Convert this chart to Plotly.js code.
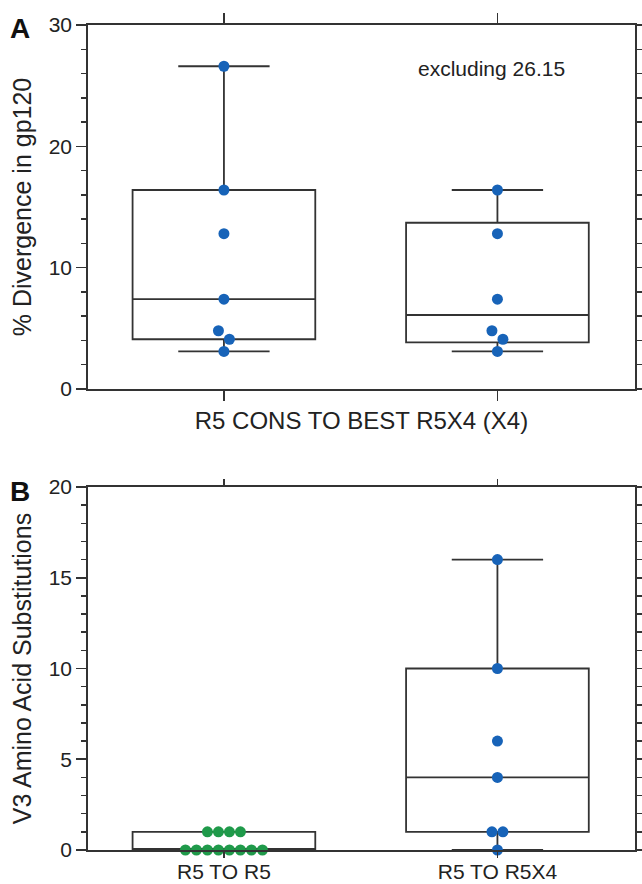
<!DOCTYPE html>
<html>
<head>
<meta charset="utf-8">
<script src="https://cdn.plot.ly/plotly-3.0.1.min.js"></script>
<style>
html,body{margin:0;padding:0;background:#ffffff;}
#chart{width:642px;height:884px;}
</style>
</head>
<body>
<div id="chart"></div>
<script>
// ---------- DATA ----------
// Panel A: % divergence in gp120 (R5 consensus to best R5X4 (X4))
const panelA_groups = ["all", "excluding 26.15"];
const panelA_all = [26.6, 16.4, 12.8, 7.4, 4.8, 4.1, 3.1];
const panelA_excluding = [16.4, 12.8, 7.4, 4.8, 4.1, 3.1];
const panelA_title_x = "R5 CONS TO BEST R5X4 (X4)";
const panelA_title_y = "% Divergence in gp120";
const panelA_note = "excluding 26.15";

// Panel B: V3 amino acid substitutions
const panelB_categories = ["R5 TO R5", "R5 TO R5X4"];
const panelB_r5_to_r5 = [1, 1, 1, 1, 0, 0, 0, 0, 0, 0, 0, 0];
const panelB_r5_to_r5x4 = [16, 10, 6, 4, 1, 1, 0];
const panelB_title_y = "V3 Amino Acid Substitutions";

// ---------- GEOMETRY ----------
const W = 642, H = 884;
const M = {l: 88, r: 7, t: 25, b: 34};
const plotW = W - M.l - M.r;
const plotH = H - M.t - M.b;
const aTop = 25, aBot = 389, bTop = 487, bBot = 850;
const domA = [(H - M.b - aBot) / plotH, 1];
const domB = [0, (H - M.b - bTop) / plotH];
const xr = [-0.497, 1.503];
const pxPerX = plotW / (xr[1] - xr[0]);
const yRangeA = [0, 30], yRangeB = [0, 20];
const pxPerYA = (aBot - aTop) / (yRangeA[1] - yRangeA[0]);
const pxPerYB = (bBot - bTop) / (yRangeB[1] - yRangeB[0]);
const DOT = 11;

const BLUE = "#1763b8";
const GREEN = "#1f9a4a";
const LINE = "#333333";
const FONT = "Liberation Sans, Arial, Helvetica, sans-serif";

function px2paperX(px) { return (px - M.l) / plotW; }
function px2paperY(py) { return (H - M.b - py) / plotH; }

// quartiles with (n+1)p positions
function quant(vals, p) {
  const s = vals.slice().sort((a, b) => a - b);
  const pos = (s.length + 1) * p;
  const lo = Math.floor(pos);
  const frac = pos - lo;
  if (lo < 1) return s[0];
  if (lo >= s.length) return s[s.length - 1];
  return s[lo - 1] + frac * (s[lo] - s[lo - 1]);
}
function stats(vals) {
  return {
    q1: quant(vals, 0.25), med: quant(vals, 0.5), q3: quant(vals, 0.75),
    lo: Math.min.apply(null, vals), hi: Math.max.apply(null, vals)
  };
}
// simple beeswarm: points closer than one dot are spread side by side
function swarm(vals, center, pxPerY) {
  const s = vals.slice().sort((a, b) => b - a);
  const groups = [];
  let cur = [];
  s.forEach(v => {
    if (cur.length && (cur[cur.length - 1] - v) * pxPerY >= DOT * 0.95) {
      groups.push(cur); cur = [];
    }
    cur.push(v);
  });
  if (cur.length) groups.push(cur);
  const xs = [], ys = [];
  groups.forEach(g => {
    const k = g.length;
    g.forEach((v, i) => {
      xs.push(center + (i - (k - 1) / 2) * DOT / pxPerX);
      ys.push(v);
    });
  });
  return {x: xs, y: ys};
}

function boxTrace(vals, xpos, xa, ya) {
  const st = stats(vals);
  return {
    type: "box", x: [xpos], xaxis: xa, yaxis: ya,
    q1: [st.q1], median: [st.med], q3: [st.q3],
    lowerfence: [st.lo], upperfence: [st.hi],
    width: 0.668, whiskerwidth: 0.5,
    boxpoints: false,
    line: {color: LINE, width: 1.8},
    fillcolor: "rgba(0,0,0,0)",
    hoverinfo: "skip", showlegend: false
  };
}
function dotTrace(vals, xpos, xa, ya, pxPerY, color) {
  const sw = swarm(vals, xpos, pxPerY);
  return {
    type: "scatter", mode: "markers", x: sw.x, y: sw.y, xaxis: xa, yaxis: ya,
    marker: {size: DOT, color: color, line: {width: 0}},
    cliponaxis: false, hoverinfo: "skip", showlegend: false
  };
}

const data = [
  boxTrace(panelA_all, 0, "x", "y"),
  boxTrace(panelA_excluding, 1, "x", "y"),
  boxTrace(panelB_r5_to_r5, 0, "x2", "y2"),
  boxTrace(panelB_r5_to_r5x4, 1, "x2", "y2"),
  dotTrace(panelA_all, 0, "x", "y", pxPerYA, BLUE),
  dotTrace(panelA_excluding, 1, "x", "y", pxPerYA, BLUE),
  dotTrace(panelB_r5_to_r5, 0, "x2", "y2", pxPerYB, GREEN),
  dotTrace(panelB_r5_to_r5x4, 1, "x2", "y2", pxPerYB, BLUE)
];

const axCommon = {
  showline: true, linecolor: LINE, linewidth: 1.8, mirror: "allticks",
  ticks: "outside", tickcolor: LINE, tickwidth: 1.6,
  showgrid: false, zeroline: false, fixedrange: true,
  tickfont: {family: FONT, size: 21, color: "#222"}
};

const layout = {
  width: W, height: H,
  margin: M,
  paper_bgcolor: "#ffffff", plot_bgcolor: "#ffffff",
  font: {family: FONT, color: "#222"},
  boxmode: "overlay",
  showlegend: false,
  xaxis: Object.assign({}, axCommon, {
    domain: [0, 1], anchor: "y", range: xr,
    tickvals: [0, 1], showticklabels: false, ticklen: 10,
    title: {text: panelA_title_x, font: {family: FONT, size: 24, color: "#222"}, standoff: 12}
  }),
  yaxis: Object.assign({}, axCommon, {
    domain: domA, anchor: "x", range: yRangeA,
    tick0: 0, dtick: 10, ticklen: 10,
    minor: {dtick: 2, tick0: 0, ticks: "outside", ticklen: 5, tickcolor: LINE, tickwidth: 1.5, showgrid: false},
    title: {text: panelA_title_y, font: {family: FONT, size: 25, color: "#222"}, standoff: 10}
  }),
  xaxis2: Object.assign({}, axCommon, {
    domain: [0, 1], anchor: "y2", range: xr,
    tickvals: [0, 1], ticktext: panelB_categories, ticklen: 6,
    ticklabelstandoff: -4
  }),
  yaxis2: Object.assign({}, axCommon, {
    domain: domB, anchor: "x2", range: yRangeB,
    tick0: 0, dtick: 5, ticklen: 10,
    minor: {dtick: 1, tick0: 0, ticks: "outside", ticklen: 5, tickcolor: LINE, tickwidth: 1.5, showgrid: false},
    title: {text: panelB_title_y, font: {family: FONT, size: 25, color: "#222"}, standoff: 10}
  }),
  annotations: [
    {text: "<b>A</b>", xref: "paper", yref: "paper", x: px2paperX(20), y: px2paperY(28),
     xanchor: "center", yanchor: "middle", showarrow: false, font: {family: FONT, size: 28, color: "#111"}},
    {text: "<b>B</b>", xref: "paper", yref: "paper", x: px2paperX(20), y: px2paperY(491),
     xanchor: "center", yanchor: "middle", showarrow: false, font: {family: FONT, size: 28, color: "#111"}},
    {text: panelA_note, xref: "paper", yref: "paper", x: px2paperX(491), y: px2paperY(68),
     xanchor: "center", yanchor: "middle", showarrow: false, font: {family: FONT, size: 21, color: "#222"}}
  ]
};

Plotly.newPlot("chart", data, layout, {displayModeBar: false, staticPlot: true});
</script>
</body>
</html>
